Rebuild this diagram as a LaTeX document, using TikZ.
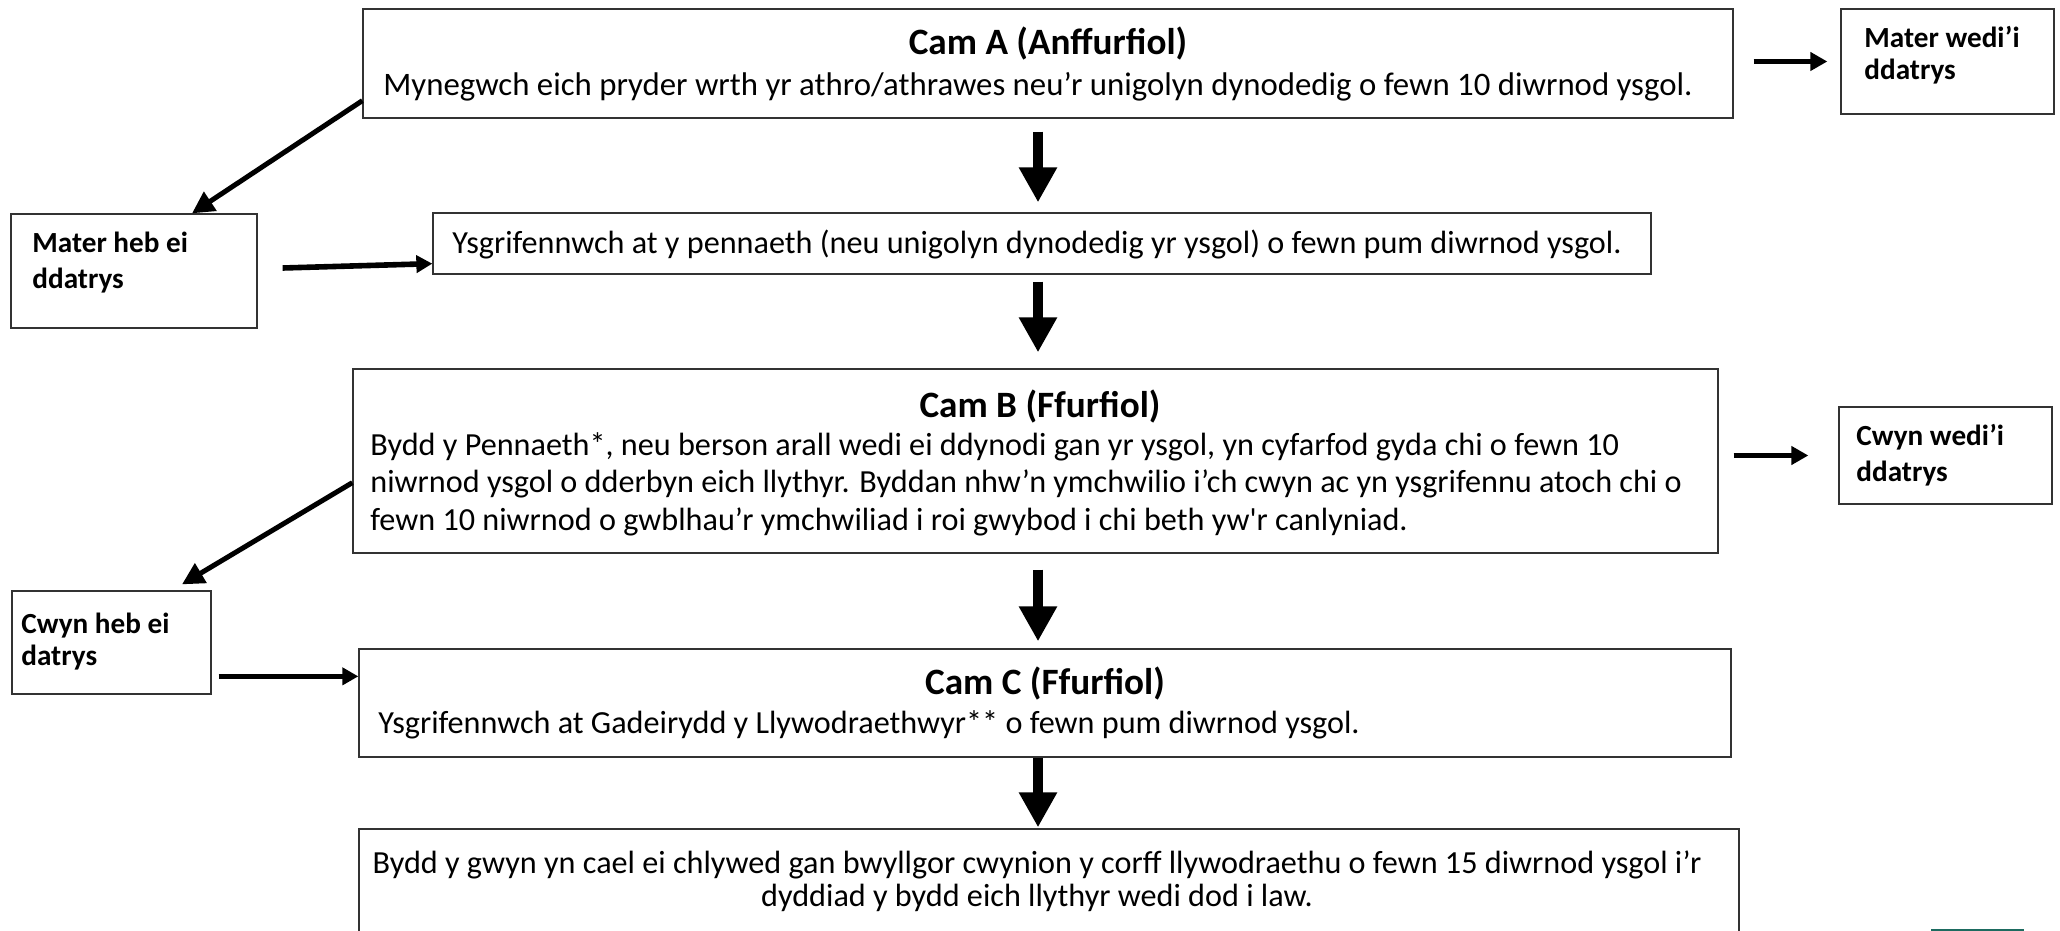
\documentclass[tikz,border=0pt]{standalone}
\usepackage{fontspec}
\setmainfont{Carlito}
\usetikzlibrary{arrows.meta,calc}
\begin{document}
\begin{tikzpicture}[x=0.5pt,y=-0.5pt,
  box/.style={draw=black!80, line width=0.65pt, inner sep=0pt, rectangle},
  body/.style={inner sep=0pt, font=\fontsize{16.1pt}{18.75pt}\selectfont},
  head/.style={inner sep=0pt, anchor=base, font=\fontsize{18.6pt}{22pt}\selectfont\bfseries},
  side/.style={inner sep=0pt, align=left, anchor=base west, font=\fontsize{14.6pt}{16pt}\selectfont\bfseries},
  bigarrow/.style={line width=5.35pt, -{Triangle[width=18pt,length=17.5pt]}},
  diagarrow/.style={line width=2.5pt, -{Triangle[width=11pt,length=11pt]}},
  leftarrow/.style={line width=2.8pt, -{Triangle[width=8.5pt,length=8pt]}},
  rightarrow/.style={line width=2.1pt, -{Triangle[width=9pt,length=8.5pt]}},
]
\useasboundingbox (0,0) rectangle (2060,931);

% boxes
\node[box, minimum width=685pt, minimum height=54.5pt] (A) at (1048,63.5) {};
\node[box, minimum width=609pt, minimum height=30.5pt] (W) at (1042,243.5) {};
\node[box, minimum width=682.5pt, minimum height=92pt] (B) at (1035.5,461) {};
\node[box, minimum width=686pt, minimum height=54pt] (C) at (1045,703) {};
\node[box, minimum width=690pt, minimum height=60.5pt] (D) at (1049,889.5) {};
\node[box, minimum width=106.5pt, minimum height=52.5pt] (MW) at (1947.5,61.5) {};
\node[box, minimum width=123pt, minimum height=57pt] (MH) at (134,271) {};
\node[box, minimum width=99.5pt, minimum height=51.5pt] (CH) at (111.5,642.5) {};
\node[box, minimum width=106.5pt, minimum height=48.5pt] (CW) at (1945.5,455.5) {};

% texts (multi-line nodes are anchored at the baseline of their last line)
\node[head] (tAh) at (1048,55) {Cam A (Anffurfiol)};
\node[body, anchor=base west, font=\fontsize{16.4pt}{19pt}\selectfont] (tAb) at (383,95.5) {Mynegwch eich pryder wrth yr athro/athrawes neu’r unigolyn dynodedig o fewn 10 diwrnod ysgol.};
\node[body, anchor=base west] (tW) at (452,253) {Ysgrifennwch at y pennaeth (neu unigolyn dynodedig yr ysgol) o fewn pum diwrnod ysgol.};
\node[head] (tBh) at (1040,417) {Cam B (Ffurfiol)};
\node[body, anchor=base west, align=left] (tBb) at (370,530) {Bydd y Pennaeth*, neu berson arall wedi ei ddynodi gan yr ysgol, yn cyfarfod gyda chi o fewn 10\\niwrnod ysgol o dderbyn eich llythyr. Byddan nhw’n ymchwilio i’ch cwyn ac yn ysgrifennu atoch chi o\\fewn 10 niwrnod o gwblhau’r ymchwiliad i roi gwybod i chi beth yw\textquotesingle r canlyniad.};
\node[head] (tCh) at (1045,694) {Cam C (Ffurfiol)};
\node[body, anchor=base west] (tCb) at (378,733) {Ysgrifennwch at Gadeirydd y Llywodraethwyr** o fewn pum diwrnod ysgol.};
\node[body, anchor=base, align=center, font=\fontsize{16.1pt}{16.5pt}\selectfont] (tD) at (1037,906) {Bydd y gwyn yn cael ei chlywed gan bwyllgor cwynion y corff llywodraethu o fewn 15 diwrnod ysgol i’r\\dyddiad y bydd eich llythyr wedi dod i law.};
\node[side, font=\fontsize{14.6pt}{16pt}\selectfont\bfseries] (tMW) at (1864,80) {Mater wedi’i\\ddatrys};
\node[side, font=\fontsize{14.6pt}{18pt}\selectfont\bfseries] (tMH) at (32,288.5) {Mater heb ei\\ddatrys};
\node[side] (tCH) at (21,665) {Cwyn heb ei\\datrys};
\node[side, font=\fontsize{14.6pt}{17.75pt}\selectfont\bfseries] (tCW) at (1856,481) {Cwyn wedi’i\\ddatrys};

% column for block arrows
\coordinate (col) at (1038,0);
\draw[bigarrow, shorten <=6.5pt, shorten >=5pt] (A.south -| col) -- (W.north -| col);
\draw[bigarrow, shorten <=3.5pt, shorten >=8pt] (W.south -| col) -- (B.north -| col);
\draw[bigarrow, shorten <=8pt, shorten >=3.5pt] (B.south -| col) -- (C.north -| col);
\draw[bigarrow, shorten >=0.5pt] (C.south -| col) -- (D.north -| col);

% side arrows
\draw[rightarrow, shorten <=10pt, shorten >=6.5pt] (A.east |- MW.west) -- (MW.west);
\draw[rightarrow, shorten <=7.5pt, shorten >=15pt] (B.east |- CW.west) -- (CW.west);
\draw[diagarrow] ($(A.south west)+(0,-18)$) -- ($(MH.north)+(58,0)$);
\draw[diagarrow] ($(B.south west)+(0,-71)$) -- ($(CH.north)+(70.5,-6)$);
\draw[leftarrow] ($(MH.east)+(25,-3)$) -- ($(W.south west)+(0,-11)$);
\coordinate (Cin) at ($(C.north west)+(0,28)$);
\draw[leftarrow, shorten <=3.5pt] (CH.east |- Cin) -- (Cin);

% green fragment at bottom right
\fill[fill={rgb,255:red,29;green,107;blue,96}] (1931,928.5) rectangle (2024,931);
\end{tikzpicture}
\end{document}
